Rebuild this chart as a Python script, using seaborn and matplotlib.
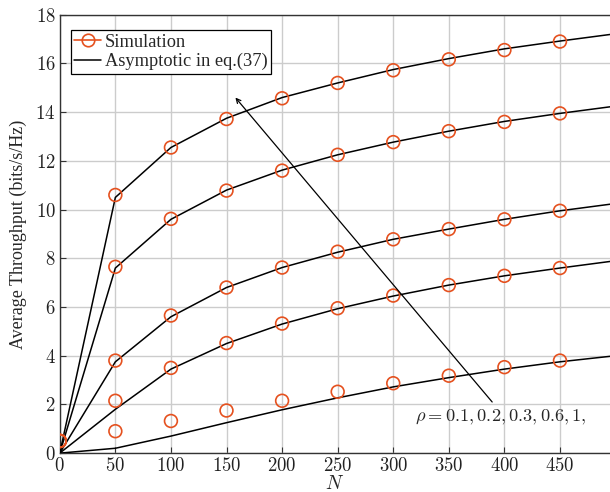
import numpy as np
import pandas as pd
import matplotlib
matplotlib.use("Agg")
import matplotlib.pyplot as plt
import seaborn as sns
from matplotlib.lines import Line2D

# ---- data ----
rho_labels = ["1", "0.6", "0.3", "0.2", "0.1"]
N_sim = [0, 50, 100, 150, 200, 250, 300, 350, 400, 450]
N_asym = [0, 50, 100, 150, 200, 250, 300, 350, 400, 450, 500]

sim_rho1 = [0.5, 10.6, 12.55, 13.72, 14.57, 15.2, 15.72, 16.17, 16.55, 16.9]
sim_rho06 = [0.5, 7.65, 9.62, 10.78, 11.6, 12.25, 12.77, 13.22, 13.6, 13.95]
sim_rho03 = [0.5, 3.8, 5.65, 6.8, 7.62, 8.27, 8.78, 9.2, 9.6, 9.95]
sim_rho02 = [0.5, 2.15, 3.5, 4.52, 5.32, 5.95, 6.47, 6.9, 7.28, 7.6]
sim_rho01 = [0.5, 0.9, 1.32, 1.75, 2.15, 2.52, 2.87, 3.18, 3.53, 3.8]

asy_rho1 = [0.0, 10.5, 12.55, 13.75, 14.6, 15.2, 15.75, 16.2, 16.6, 16.92, 17.22]
asy_rho06 = [0.0, 7.6, 9.6, 10.8, 11.62, 12.25, 12.77, 13.22, 13.62, 13.95, 14.25]
asy_rho03 = [0.0, 3.75, 5.6, 6.8, 7.62, 8.25, 8.78, 9.2, 9.6, 9.95, 10.25]
asy_rho02 = [0.0, 1.8, 3.45, 4.5, 5.3, 5.93, 6.45, 6.9, 7.28, 7.6, 7.9]
asy_rho01 = [0.0, 0.2, 0.7, 1.25, 1.78, 2.27, 2.72, 3.1, 3.45, 3.75, 4.0]

x_ticks = [0, 50, 100, 150, 200, 250, 300, 350, 400, 450]
y_ticks = [0, 2, 4, 6, 8, 10, 12, 14, 16, 18]

sim_all = [sim_rho1, sim_rho06, sim_rho03, sim_rho02, sim_rho01]
asy_all = [asy_rho1, asy_rho06, asy_rho03, asy_rho02, asy_rho01]

sim_df = pd.concat([pd.DataFrame({"N": N_sim, "T": v, "rho": r})
                    for v, r in zip(sim_all, rho_labels)], ignore_index=True)
asy_df = pd.concat([pd.DataFrame({"N": N_asym, "T": v, "rho": r})
                    for v, r in zip(asy_all, rho_labels)], ignore_index=True)

# ---- style ----
sns.set_style("ticks")
plt.rcParams["font.family"] = ["Liberation Serif", "DejaVu Serif"]
plt.rcParams["mathtext.fontset"] = "cm"
plt.rcParams["xtick.direction"] = "in"
plt.rcParams["ytick.direction"] = "in"

orange = "#E5511F"

fig = plt.figure(figsize=(6.10, 4.92), dpi=100)
ax = fig.add_axes([0.098, 0.079, 0.902, 0.891])

ax.grid(True, color="#cccccc", linewidth=1.0, zorder=0)
ax.set_axisbelow(True)

sns.lineplot(data=asy_df, x="N", y="T", units="rho", estimator=None,
             color="black", linewidth=1.1, ax=ax, legend=False, zorder=3)
sns.scatterplot(data=sim_df, x="N", y="T", marker="o", s=85,
                facecolor="none", edgecolor=orange, linewidth=1.2,
                ax=ax, legend=False, zorder=4)

ax.set_xlim(0, 495)
ax.set_ylim(0, 18)
ax.set_xticks(x_ticks)
ax.set_yticks(y_ticks)
ax.set_xticklabels([f"${v}$" for v in x_ticks])
ax.set_yticklabels([f"${v}$" for v in y_ticks])
ax.tick_params(labelsize=13.5, length=4, width=0.8, colors="#333333",
               labelcolor="#222222", pad=3)
ax.set_xlabel("$N$", fontsize=14, labelpad=0)
ax.set_ylabel("Average Throughput (bits/s/Hz)", fontsize=13, labelpad=6)

for side in ["left", "bottom", "top"]:
    ax.spines[side].set_color("#333333")
    ax.spines[side].set_linewidth(1.0)
ax.spines["right"].set_visible(False)

# arrow + rho annotation
ax.annotate("", xy=(158, 14.6), xytext=(389, 2.1),
            arrowprops=dict(arrowstyle="->", color="black", lw=0.9,
                            mutation_scale=8, shrinkA=0, shrinkB=0), zorder=5)
ax.text(320, 1.45, r"$\rho=0.1,0.2,0.3,0.6,1,$", fontsize=13.2,
        va="center", ha="left", zorder=5)

# legend
handles = [Line2D([], [], color=orange, marker="o", markersize=9,
                  markerfacecolor="none", markeredgewidth=1.2, linewidth=1.2),
           Line2D([], [], color="black", linewidth=1.1)]
leg = ax.legend(handles, ["Simulation", "Asymptotic in eq.(37)"],
                loc="upper left", bbox_to_anchor=(0.0, 0.99),
                fontsize=13.2, frameon=True, fancybox=False, framealpha=1,
                edgecolor="black", handlelength=1.45, handletextpad=0.2,
                borderpad=0.2, labelspacing=0.12, borderaxespad=0.6)
leg.get_frame().set_linewidth(0.9)

fig.savefig("out.png", dpi=100)
